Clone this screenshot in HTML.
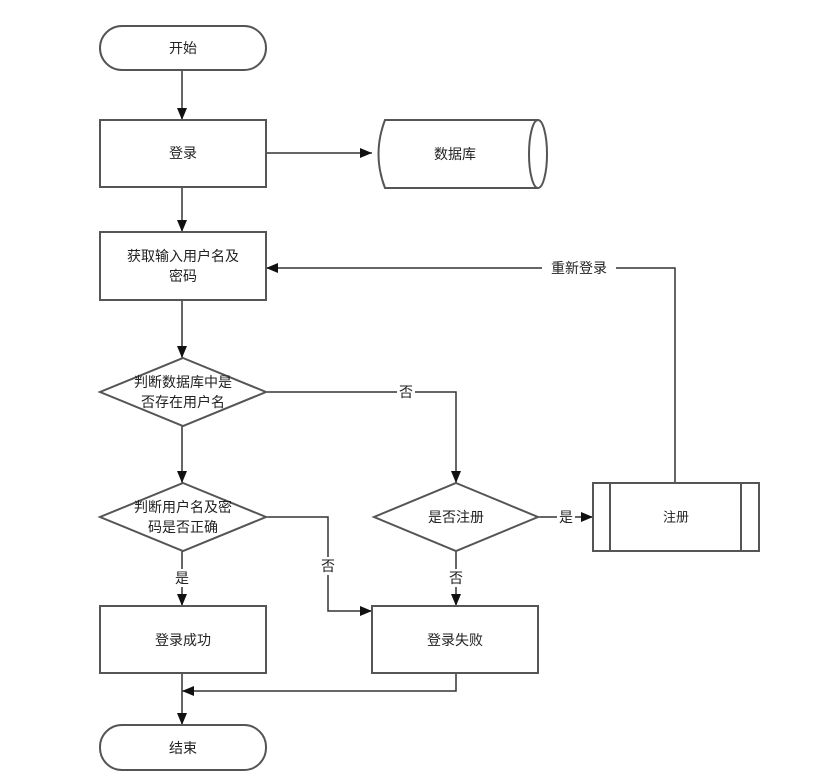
<!DOCTYPE html>
<html><head><meta charset="utf-8"><style>
html,body{margin:0;padding:0;background:#fff;}
svg{display:block;}
text{font-family:"Liberation Sans","Noto Sans CJK SC",sans-serif;font-size:14px;fill:#222;text-anchor:middle;dominant-baseline:central;}
.s{fill:#fff;stroke:#555;stroke-width:2;}
.l{fill:none;stroke:#333;stroke-width:1.5;}
</style></head><body>
<svg width="813" height="776" viewBox="0 0 813 776" xmlns="http://www.w3.org/2000/svg">
<defs><marker id="a" markerWidth="12" markerHeight="10" refX="12" refY="5" orient="auto" markerUnits="userSpaceOnUse"><path d="M0,0 L12,5 L0,10 z" fill="#111"/></marker></defs>

<!-- connectors -->
<line class="l" x1="182" y1="70" x2="182" y2="120" marker-end="url(#a)"/>
<line class="l" x1="266" y1="153" x2="372" y2="153" marker-end="url(#a)"/>
<line class="l" x1="182" y1="187" x2="182" y2="232" marker-end="url(#a)"/>
<line class="l" x1="182" y1="300" x2="182" y2="358" marker-end="url(#a)"/>
<line class="l" x1="182" y1="426" x2="182" y2="483" marker-end="url(#a)"/>
<polyline class="l" points="266,392 456,392 456,483" marker-end="url(#a)"/>
<polyline class="l" points="266,517 328,517 328,611 372,611" marker-end="url(#a)"/>
<line class="l" x1="182" y1="551" x2="182" y2="606" marker-end="url(#a)"/>
<line class="l" x1="456" y1="551" x2="456" y2="606" marker-end="url(#a)"/>
<line class="l" x1="538" y1="517" x2="593" y2="517" marker-end="url(#a)"/>
<polyline class="l" points="675,483 675,268 266,268" marker-end="url(#a)"/>
<polyline class="l" points="456,673 456,691 182,691" marker-end="url(#a)"/>
<line class="l" x1="182" y1="673" x2="182" y2="725" marker-end="url(#a)"/>

<!-- labels on connectors -->
<rect x="397" y="383" width="18" height="18" fill="#fff"/><text x="406" y="392">否</text>
<rect x="319" y="557" width="18" height="18" fill="#fff"/><text x="328" y="566">否</text>
<rect x="173" y="569" width="18" height="18" fill="#fff"/><text x="182" y="578">是</text>
<rect x="447" y="569" width="18" height="18" fill="#fff"/><text x="456" y="578">否</text>
<rect x="557" y="508" width="18" height="18" fill="#fff"/><text x="566" y="517">是</text>
<rect x="542" y="259" width="74" height="18" fill="#fff"/><text x="579" y="268">重新登录</text>

<!-- shapes -->
<rect class="s" x="100" y="26" width="166" height="44" rx="22"/><text x="183" y="48">开始</text>
<rect class="s" x="100" y="120" width="166" height="67"/><text x="183" y="153">登录</text>
<path class="s" d="M385,120 L538,120 A9,34 0 0 1 538,188 L385,188 Q372,154 385,120 z"/>
<path class="s" d="M538,120 A9,34 0 0 0 538,188"/>
<text x="455" y="154">数据库</text>
<rect class="s" x="100" y="232" width="166" height="68"/><text x="183" y="256">获取输入用户名及</text><text x="183" y="276">密码</text>
<polygon class="s" points="183,358 266,392 183,426 100,392"/><text x="183" y="382">判断数据库中是</text><text x="183" y="402">否存在用户名</text>
<polygon class="s" points="183,483 266,517 183,551 100,517"/><text x="183" y="507">判断用户名及密</text><text x="183" y="527">码是否正确</text>
<polygon class="s" points="456,483 538,517 456,551 374,517"/><text x="456" y="517">是否注册</text>
<rect class="s" x="593" y="483" width="166" height="68"/>
<line class="s" x1="610" y1="483" x2="610" y2="551"/><line class="s" x1="741" y1="483" x2="741" y2="551"/>
<text x="676" y="517" style="font-size:13px">注册</text>
<rect class="s" x="100" y="606" width="166" height="67"/><text x="183" y="640">登录成功</text>
<rect class="s" x="372" y="606" width="166" height="67"/><text x="455" y="640">登录失败</text>
<rect class="s" x="100" y="725" width="166" height="45" rx="22"/><text x="183" y="748">结束</text>
</svg>
</body></html>
